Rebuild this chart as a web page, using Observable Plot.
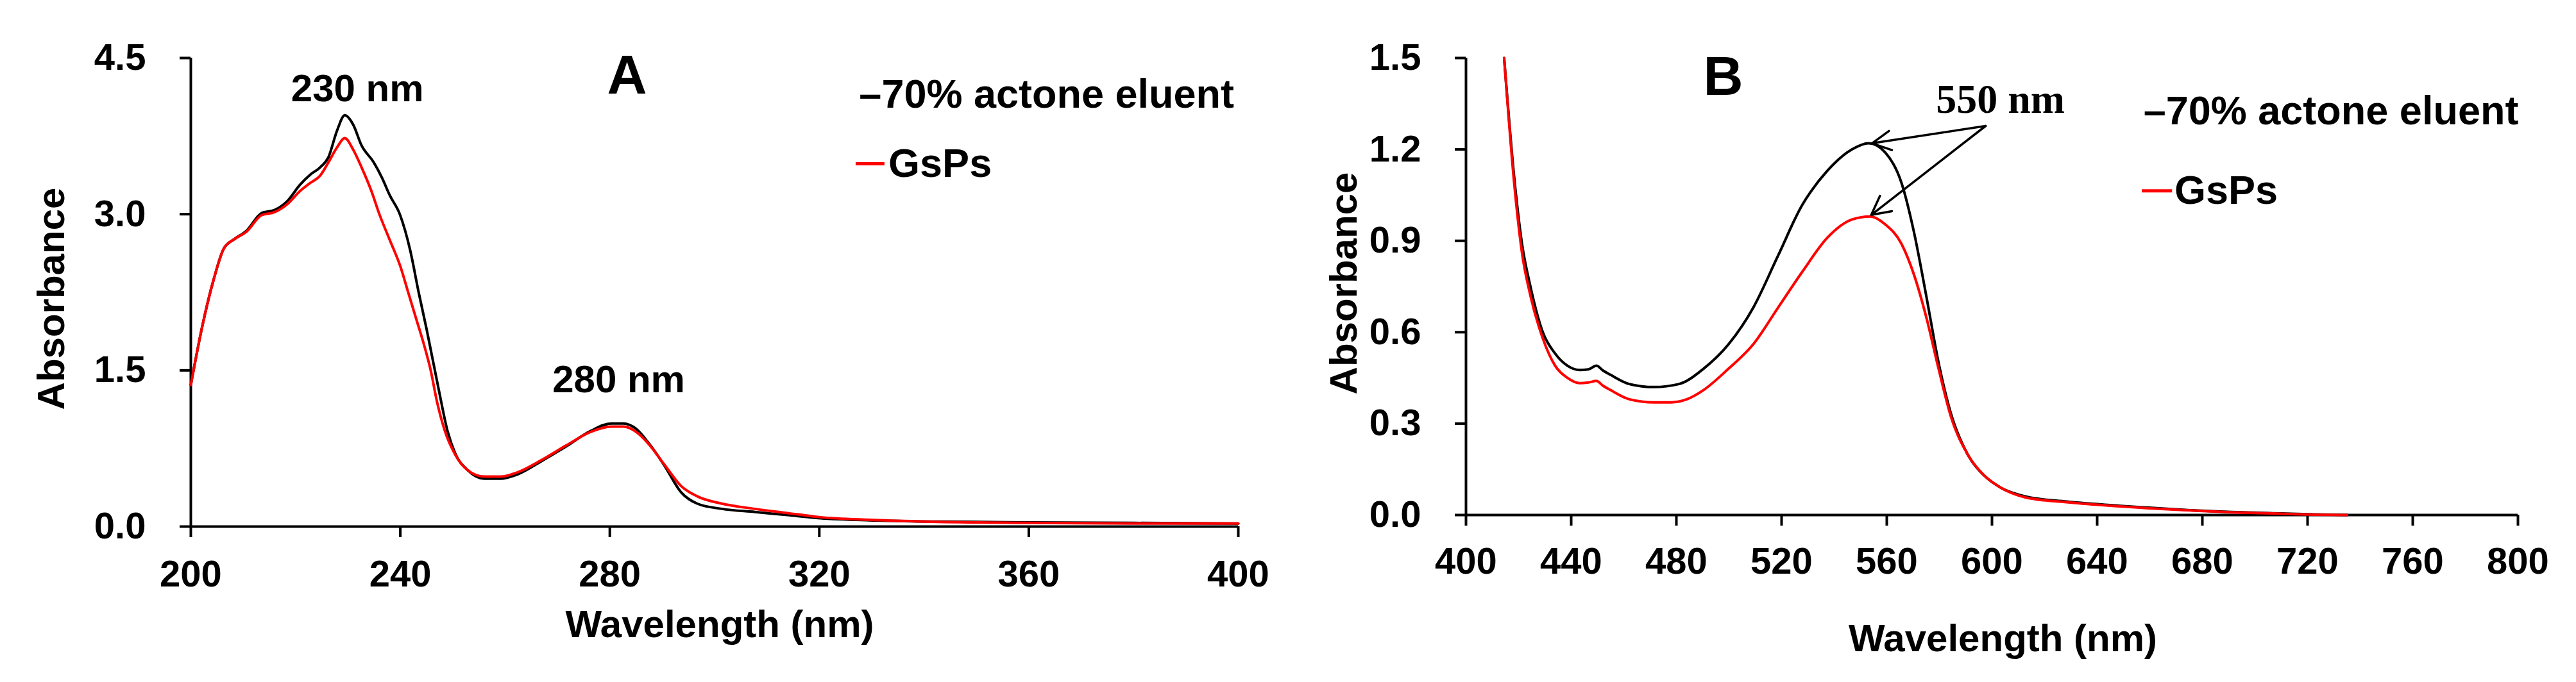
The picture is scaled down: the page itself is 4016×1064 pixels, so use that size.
<!DOCTYPE html>
<html>
<head>
<meta charset="utf-8">
<script src="https://cdn.jsdelivr.net/npm/d3@7"></script>
<script src="https://cdn.jsdelivr.net/npm/@observablehq/plot@0.6"></script>
<style>
  body { margin: 0; background: #fff; }
  #wrap { display: flex; width: 4016px; height: 1064px; background: #fff; }
  #wrap svg { display: block; }
</style>
</head>
<body>
<div id="wrap"></div>
<script>
// ---------- Panel A data (UV spectrum, 200–400 nm) ----------
const aBlackX = [200,202,204.4,206.3,208.3,210.6,213.5,216,218.5,220.8,222.8,224.7,226.3,227.9,229.4,231,232.6,234.9,236.5,238,239.9,241.9,243.5,245,246.2,247.4,249,250.5,252.9,256,259.2,262.3,267,271.7,276.4,280.3,282.6,285,287.3,290.5,293.6,296.7,301.4,307.7,313.9,320.2,329.6,339,359.3,380,400];
const aBlackY = [1.36,1.88,2.38,2.67,2.76,2.84,3.01,3.04,3.13,3.28,3.38,3.45,3.55,3.80,3.95,3.86,3.66,3.50,3.35,3.18,3.00,2.65,2.25,1.90,1.60,1.30,0.92,0.70,0.54,0.46,0.46,0.50,0.63,0.77,0.92,0.99,0.99,0.94,0.81,0.58,0.33,0.22,0.17,0.14,0.11,0.08,0.06,0.05,0.04,0.035,0.03];
const aRedX = [200,202,204.4,206.3,208.3,210.6,213.5,216,218.5,220.8,222.8,224.7,226.3,227.9,229.4,231,232.6,234.5,236,238,240,241.5,243,244.5,245.8,247,248.5,250.5,252.9,256,259.2,262.3,267,271.7,276.4,280.3,282.6,285,287.3,290.5,293.6,296.7,301.4,307.7,313.9,320.2,329.6,339,359.3,380,400];
const aRedY = [1.36,1.88,2.38,2.67,2.76,2.83,2.99,3.02,3.10,3.22,3.30,3.37,3.50,3.64,3.73,3.62,3.45,3.22,3.00,2.75,2.50,2.25,2.00,1.75,1.50,1.20,0.92,0.69,0.54,0.48,0.48,0.52,0.64,0.78,0.91,0.96,0.96,0.91,0.80,0.59,0.39,0.29,0.22,0.17,0.13,0.09,0.065,0.05,0.035,0.03,0.03];
const aXTicks = [200,240,280,320,360,400];
const aYTicks = [0,1.5,3.0,4.5];
const aPeakText = ["230 nm","280 nm"];
const aPeakX = [231.8,281.7];
const aPeakY = [4.2,1.41];
const aLetter = ["A"]; const aLetterX = [283.3]; const aLetterY = [4.33];
const aLegendX = [327.6]; const aLegendY = [4.15, 3.484];
const aDashX = [327.0, 332.5]; const aLegendTextX = [333.2];

// ---------- Panel B data (visible spectrum, 400–800 nm) ----------
const bBlackX = [414.5,418.2,421.3,424.5,429.2,433.9,438.6,443.3,446.5,449.6,452,455,462.1,471.5,481,490.3,499.8,509.2,518.6,528,531,537.4,546.8,553.1,559.4,565.6,570.3,575,579.7,584.5,590.7,597,603.3,612.7,628.4,644,659.7,675.4,691,706.8,722.5,735];
const bBlackY = [1.5,1.12,0.89,0.75,0.60,0.53,0.49,0.476,0.478,0.49,0.475,0.46,0.43,0.42,0.43,0.48,0.56,0.68,0.85,1.02,1.06,1.13,1.20,1.22,1.19,1.09,0.93,0.72,0.50,0.33,0.20,0.13,0.09,0.061,0.044,0.033,0.024,0.016,0.01,0.006,0.002,0];
const bRedX = [414.5,418.2,421.3,424.5,429.2,433.9,438.6,443.3,446.5,449.6,452,455,462.1,471.5,478,484,490.3,499.8,509.2,518.6,528,537.4,546.8,553.7,559.4,565.6,570.3,575,579.7,584.5,590.7,597,603.3,612.7,628.4,644,659.7,675.4,691,706.8,722.5,735];
const bRedY = [1.5,1.10,0.86,0.72,0.58,0.49,0.45,0.433,0.435,0.44,0.425,0.41,0.38,0.37,0.37,0.38,0.41,0.48,0.56,0.68,0.80,0.91,0.97,0.98,0.954,0.89,0.79,0.65,0.48,0.32,0.20,0.13,0.09,0.058,0.042,0.031,0.022,0.015,0.009,0.005,0.001,0];
const bXTicks = [400,440,480,520,560,600,640,680,720,760,800];
const bYTicks = [0,0.3,0.6,0.9,1.2,1.5];
const bPeakText = ["550 nm"]; const bPeakX = [603.2]; const bPeakY = [1.364];
const bLetter = ["B"]; const bLetterX = [497.8]; const bLetterY = [1.438];
const bLegendX = [657.6]; const bLegendY = [1.324, 1.064];
const bDashX = [657.1, 668.6]; const bLegendTextX = [669.4];
const bArrowX1 = [597.6,597.6]; const bArrowY1 = [1.277,1.277];
const bArrowX2 = [554.4,554.1]; const bArrowY2 = [1.220,0.985];

const legendLabels = ["–70% actone eluent","GsPs"];
const FONT = "'Liberation Sans', Arial, Helvetica, sans-serif";
const toRows = (xs, ys) => xs.map((x, i) => ({x, y: ys[i]}));

function panel(cfg) {
  const black = toRows(cfg.blackX, cfg.blackY);
  const red = toRows(cfg.redX, cfg.redY);
  const peaks = cfg.peakText.map((t, i) => ({t, x: cfg.peakX[i], y: cfg.peakY[i]}));
  const letter = cfg.letter.map((t, i) => ({t, x: cfg.letterX[i], y: cfg.letterY[i]}));
  const legend1 = [{t: legendLabels[0], x: cfg.legendX[0], y: cfg.legendY[0]}];
  const legendDash = [{x1: cfg.dashX[0], x2: cfg.dashX[1], y: cfg.legendY[1]}];
  const legend2 = [{t: legendLabels[1], x: cfg.legendTextX[0], y: cfg.legendY[1]}];
  const marks = [
    Plot.axisX({ticks: cfg.xTicks, tickSize: 17, tickPadding: cfg.xPad, strokeWidth: 4, label: null, fontSize: 58, fontWeight: "bold", tickFormat: d3.format("d")}),
    Plot.axisY({ticks: cfg.yTicks, tickSize: 17, tickPadding: 53, strokeWidth: 4, label: null, fontSize: 58, fontWeight: "bold", tickFormat: d3.format(".1f")}),
    Plot.ruleY([cfg.yDomain[0]], {stroke: "#000", strokeWidth: 4}),
    Plot.ruleX([cfg.xDomain[0]], {stroke: "#000", strokeWidth: 4}),
    Plot.line(black, {x: "x", y: "y", stroke: "#000", strokeWidth: 4, curve: "monotone-x"}),
    Plot.line(red, {x: "x", y: "y", stroke: "#ff0000", strokeWidth: 4, curve: "monotone-x"}),
    Plot.text(peaks, {x: "x", y: "y", text: "t", fontSize: cfg.peakSize, fontWeight: "bold", fontFamily: cfg.peakFont, textAnchor: "middle", lineAnchor: "middle", fill: "#000"}),
    Plot.text(letter, {x: "x", y: "y", text: "t", fontSize: 86, fontWeight: "bold", textAnchor: "middle", lineAnchor: "middle", fill: "#000"}),
    Plot.text(legend1, {x: "x", y: "y", text: "t", fontSize: 63, fontWeight: "bold", textAnchor: "start", lineAnchor: "middle", fill: "#000"}),
    Plot.ruleY(legendDash, {y: "y", x1: "x1", x2: "x2", stroke: "#ff0000", strokeWidth: 5}),
    Plot.text(legend2, {x: "x", y: "y", text: "t", fontSize: 63, fontWeight: "bold", textAnchor: "start", lineAnchor: "middle", fill: "#000"}),
    Plot.text(["Absorbance"], {frameAnchor: "left", text: d => d, rotate: -90, dx: cfg.yLabelDx, dy: cfg.yLabelDy, fontSize: 60, fontWeight: "bold", textAnchor: "middle", lineAnchor: "middle", fill: "#000"}),
    Plot.text(["Wavelength (nm)"], {frameAnchor: "bottom", text: d => d, dx: cfg.xLabelDx, dy: cfg.xLabelDy, fontSize: 60, fontWeight: "bold", textAnchor: "middle", lineAnchor: "middle", fill: "#000"})
  ];
  if (cfg.arrowX1) {
    const arrows = cfg.arrowX1.map((x1, i) => ({x1, y1: cfg.arrowY1[i], x2: cfg.arrowX2[i], y2: cfg.arrowY2[i]}));
    marks.push(Plot.arrow(arrows, {x1: "x1", y1: "y1", x2: "x2", y2: "y2", stroke: "#000", strokeWidth: 3.5, headLength: 14, headAngle: 55}));
  }
  return Plot.plot({
    width: cfg.width,
    height: 1064,
    marginLeft: cfg.ml,
    marginRight: cfg.mr,
    marginTop: 90,
    marginBottom: cfg.mb,
    x: {domain: cfg.xDomain},
    y: {domain: cfg.yDomain},
    style: {fontFamily: FONT, fontSize: "58px", fontWeight: "bold", color: "#000", background: "#fff", overflow: "visible"},
    marks
  });
}

const plotA = panel({
  width: 2000, ml: 297, mr: 70, mb: 243, xPad: 35,
  xDomain: [200, 400], yDomain: [0, 4.5],
  xTicks: aXTicks, yTicks: aYTicks,
  blackX: aBlackX, blackY: aBlackY, redX: aRedX, redY: aRedY,
  peakText: aPeakText, peakX: aPeakX, peakY: aPeakY, peakSize: 60, peakFont: FONT,
  letter: aLetter, letterX: aLetterX, letterY: aLetterY,
  legendX: aLegendX, legendY: aLegendY, legendTextX: aLegendTextX, dashX: aDashX,
  yLabelDx: -217, yLabelDy: 10, xLabelDx: 8, xLabelDy: 153
});
const plotB = panel({
  width: 2016, ml: 285, mr: 91, mb: 261, xPad: 33,
  xDomain: [400, 800], yDomain: [0, 1.5],
  xTicks: bXTicks, yTicks: bYTicks,
  blackX: bBlackX, blackY: bBlackY, redX: bRedX, redY: bRedY,
  peakText: bPeakText, peakX: bPeakX, peakY: bPeakY, peakSize: 64, peakFont: "'Liberation Serif', 'Times New Roman', serif",
  letter: bLetter, letterX: bLetterX, letterY: bLetterY,
  legendX: bLegendX, legendY: bLegendY, legendTextX: bLegendTextX, dashX: bDashX,
  arrowX1: bArrowX1, arrowY1: bArrowY1, arrowX2: bArrowX2, arrowY2: bArrowY2,
  yLabelDx: -190, yLabelDy: -5, xLabelDx: 17, xLabelDy: 193
});
document.getElementById("wrap").append(plotA, plotB);
</script>
</body>
</html>
